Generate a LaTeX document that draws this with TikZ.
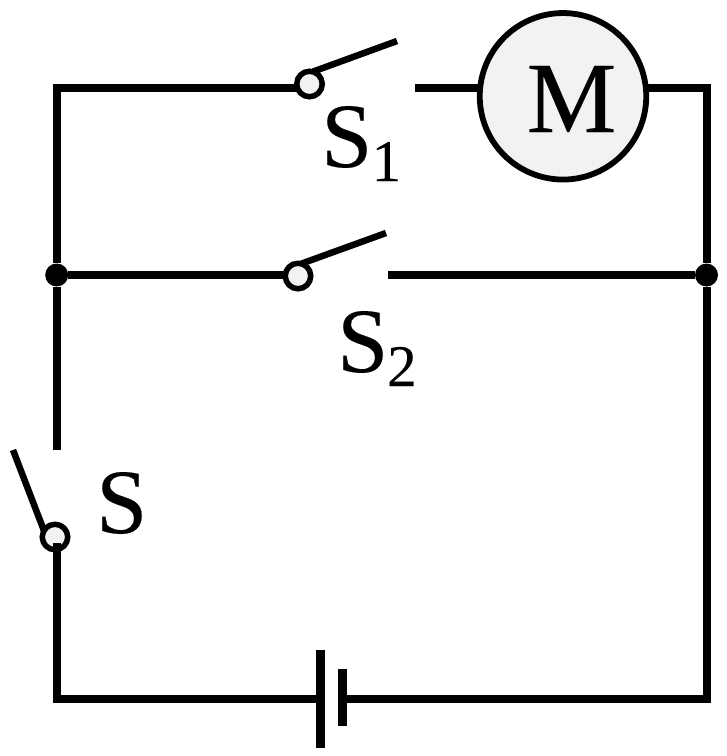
\documentclass[tikz,border=0pt]{standalone}
\usepackage{fontspec}
\setmainfont[RawFeature={embolden=0.2}]{Liberation Serif}
\definecolor{paleg}{HTML}{F2F2F2}
\tikzset{
 wire/.style={line width=8pt,line cap=butt,black},
 arm/.style={line width=6.5pt,line cap=butt,black},
 bar/.style={line width=8.5pt,line cap=butt,black},
 contact/.style={circle,draw=black,fill=paleg,line width=5.5pt,minimum size=25.5pt,inner sep=0pt,outer sep=0pt},
 junction/.style={circle,fill=black,minimum size=23pt,inner sep=0pt},
 motor/.style={circle,draw=black,fill=paleg,line width=5.8pt,minimum size=166.5pt,inner sep=0pt,outer sep=0pt},
 lab/.style={font=\fontsize{92}{92}\selectfont,inner sep=0pt,anchor=base west},
 subl/.style={font=\fontsize{59}{59}\selectfont,inner sep=0pt,anchor=base west}
}
\begin{document}
\begin{tikzpicture}[x=1pt,y=-1pt]
\useasboundingbox (0,0) rectangle (727,756);
\coordinate (TL) at (56.7,87.8);
\coordinate (TR) at (706.5,87.8);
\coordinate (BL) at (56.7,698.5);
\coordinate (BR) at (706.5,698.5);
\coordinate (Sa) at (56.7,450);
\coordinate (Sb) at (56.7,543);
\coordinate (B1) at (320.3,698.5);
\coordinate (B2) at (342.5,698.5);
\coordinate (S1o) at (415,87.8);
\coordinate (S1t) at (397,41);
\coordinate (S2o) at (388,275);
\coordinate (S2t) at (386,233);
\coordinate (St) at (13,450);
\coordinate (B1u) at (320.3,650);
\coordinate (B1d) at (320.3,748);
\coordinate (B2u) at (342.5,669);
\coordinate (B2d) at (342.5,725.7);
\node[motor] (M) at (563,96.3) {};
\node[font=\fontsize{101}{101}\selectfont,inner sep=0pt,anchor=base] (Mt) at (571.5,132) {M};
\node[junction] (JL) at (56.7,275) {};
\node[junction] (JR) at (706.5,275) {};
\draw[wire] (JL) -- (298,275);
\draw[wire] (309,87.8) -- (TL) -- (JL);
\node[contact] (C1) at (309.5,84) {};
\node[contact] (C2) at (298,276) {};
\node[contact] (C3) at (55,537) {};
\draw[wire] (JL) -- (Sa);
\draw[wire] (S2o) -- (JR);
\draw[wire] (S1o) -- (S1o -| M.west);
\draw[wire] (S1o -| M.east) -- (TR) -- (JR);
\draw[wire] (JR) -- (BR) -- (B2);
\draw[wire] (B1) -- (BL) -- (Sb);
\draw[arm] (C1.75) -- (S1t);
\draw[arm] (C2.75) -- (S2t);
\draw[arm] (C3.150) -- (St);
\draw[bar] (B1u) -- (B1d);
\draw[bar] (B2u) -- (B2d);
\node[lab] (L1) at (321,167) {S};
\node[subl] (L1s) at (371.5,181) {1};
\node[lab] (L2) at (337,372) {S};
\node[subl] (L2s) at (387,386) {2};
\node[lab] (L3) at (96,533) {S};
\end{tikzpicture}
\end{document}
